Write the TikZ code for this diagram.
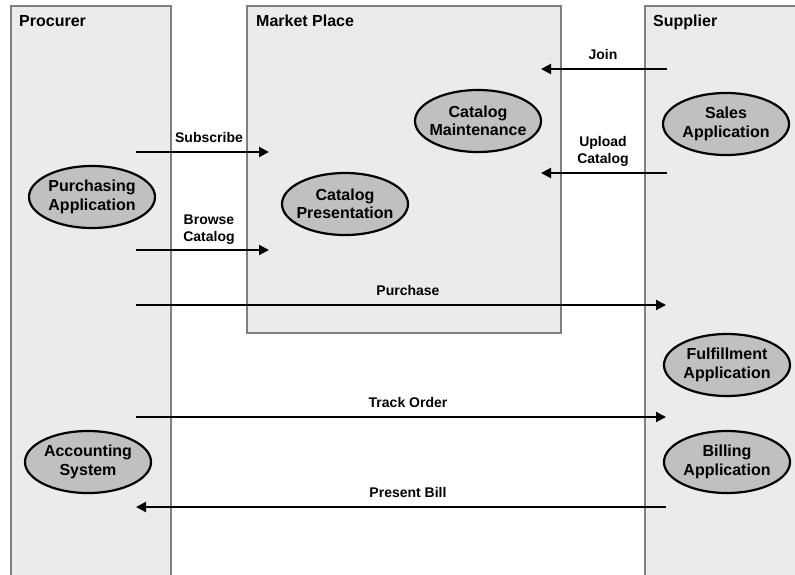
\documentclass[tikz,border=0pt]{standalone}
\usepackage{fontspec}
\setmainfont{Liberation Sans}
\usetikzlibrary{arrows.meta,shapes.geometric}

\definecolor{lanefill}{HTML}{EBEBEB}
\definecolor{laneline}{HTML}{7F7F7F}
\definecolor{procfill}{HTML}{C0C0C0}

\begin{document}
\begin{tikzpicture}[x=1pt,y=-1pt,
  lane/.style={draw=laneline, fill=lanefill, line width=1.3pt},
  hdr/.style={font=\fontsize{16}{18}\selectfont\bfseries, anchor=base west, inner sep=0pt},
  proc/.style={ellipse, draw=black, fill=procfill, line width=2.2pt,
    minimum width=126pt, minimum height=62pt, inner xsep=-8pt, inner ysep=0pt,
    align=center, font=\fontsize{16}{18.5}\selectfont\bfseries},
  lbl/.style={font=\fontsize{14}{17}\selectfont\bfseries, align=center, inner sep=0pt, anchor=south},
  flow/.style={line width=2pt, -{Triangle[length=10pt,width=10pt]}}]

\useasboundingbox (0,0) rectangle (795,574);
\clip (0,0) rectangle (795,574);

% swim lanes
\draw[lane] (11,6) rectangle (171,600);
\draw[lane] (247,6) rectangle (561,333);
\draw[lane] (645,6) rectangle (820,600);

\node[hdr] (hproc) at (19,26.5) {Procurer};
\node[hdr] (hmkt) at (256,26.5) {Market Place};
\node[hdr] (hsup) at (653,26.5) {Supplier};

% processes
\node[proc] (purch) at (92,197) {Purchasing\\Application};
\node[proc] (acct) at (88,462) {Accounting\\System};
\node[proc] (maint) at (478,121) {Catalog\\Maintenance};
\node[proc] (pres) at (345,204) {Catalog\\Presentation};
\node[proc] (sales) at (726,124) {Sales\\Application};
\node[proc] (fulfil) at (727,365) {Fulfillment\\Application};
\node[proc] (bill) at (727,462) {Billing\\Application};

% message end points
\coordinate (sub-a) at (136,152);   \coordinate (sub-b) at (269,152);
\coordinate (brw-a) at (136,250);   \coordinate (brw-b) at (269,250);
\coordinate (pur-a) at (136,305);   \coordinate (pur-b) at (666,305);
\coordinate (trk-a) at (136,417);   \coordinate (trk-b) at (666,417);
\coordinate (bil-a) at (666,507);   \coordinate (bil-b) at (136,507);
\coordinate (join-a) at (667,69);   \coordinate (join-b) at (541,69);
\coordinate (upl-a) at (667,173);   \coordinate (upl-b) at (541,173);

% messages
\draw[flow] (sub-a) -- (sub-b);
\draw[flow] (brw-a) -- (brw-b);
\draw[flow] (pur-a) -- (pur-b);
\draw[flow] (trk-a) -- (trk-b);
\draw[flow] (bil-a) -- (bil-b);
\draw[flow] (join-a) -- (join-b);
\draw[flow] (upl-a) -- (upl-b);

\node[lbl] (l-sub) at (209,143) {Subscribe};
\node[lbl] (l-brw) at (209,245) {Browse\\Catalog};
\node[lbl] (l-pur) at (408,296) {Purchase};
\node[lbl] (l-trk) at (408,408) {Track Order};
\node[lbl] (l-bil) at (408,498) {Present Bill};
\node[lbl] (l-join) at (603,60) {Join};
\node[lbl] (l-upl) at (603,167) {Upload\\Catalog};
\end{tikzpicture}
\end{document}
